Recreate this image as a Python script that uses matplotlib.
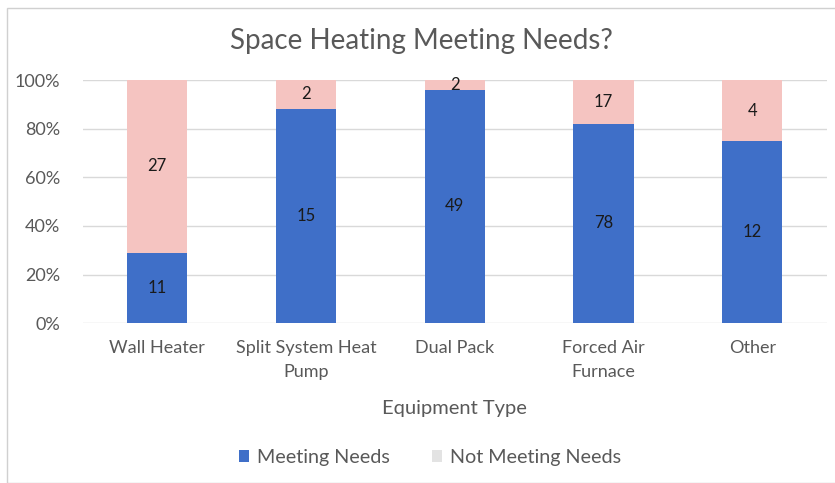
import matplotlib.pyplot as plt
from matplotlib.patches import Rectangle
import numpy as np

categories = ["Wall Heater", "Split System Heat\nPump", "Dual Pack", "Forced Air\nFurnace", "Other"]
meeting = [11, 15, 49, 78, 12]
not_meeting = [27, 2, 2, 17, 4]

blue = "#3F6FC8"
pink = "#F5C4C1"
text_col = "#595959"

plt.rcParams['font.family'] = ['Lato', 'DejaVu Sans']

fig = plt.figure(figsize=(8.35, 4.83), dpi=100)
ax = fig.add_axes([0.099, 0.331, 0.891, 0.503])

meet = np.array(meeting, dtype=float)
miss = np.array(not_meeting, dtype=float)
total = meet + miss
p_meet = meet / total
p_miss = miss / total

x = np.arange(len(categories))
w = 0.405
b1 = ax.bar(x, p_meet, w, color=blue, label="Meeting Needs", zorder=3)
b2 = ax.bar(x, p_miss, w, bottom=p_meet, color=pink, label="Not Meeting Needs", zorder=3)

for i in range(len(x)):
    ax.text(x[i], p_meet[i] / 2, str(meeting[i]), ha="center", va="center",
            fontsize=12, color="#1a1a1a", zorder=4)
    ax.text(x[i], p_meet[i] + p_miss[i] / 2, str(not_meeting[i]), ha="center", va="center",
            fontsize=12, color="#1a1a1a", zorder=4)

ax.set_ylim(0, 1)
ax.set_xlim(-0.5, len(x) - 0.5)
ax.set_yticks(np.linspace(0, 1, 6))
ax.set_yticklabels([f"{int(v * 100)}%" for v in np.linspace(0, 1, 6)])
ax.set_xticks(x)
ax.set_xticklabels(categories, linespacing=1.6)
ax.tick_params(axis="both", length=0, labelsize=13, colors=text_col)
ax.tick_params(axis="x", pad=12)
ax.tick_params(axis="y", pad=16)
ax.grid(axis="y", color="#d9d9d9", linewidth=1, zorder=0)
for s in ax.spines.values():
    s.set_visible(False)

ax.set_xlabel("Equipment Type", fontsize=14.5, color=text_col, labelpad=15)
fig.text(0.505, 0.915, "Space Heating Meeting Needs?", ha="center", va="center",
         fontsize=20, color=text_col)

leg = fig.legend(handles=[b1, b2], labels=["Meeting Needs", "Not Meeting Needs"],
                 loc="center", bbox_to_anchor=(0.515, 0.052), ncol=2, frameon=False,
                 fontsize=14.2, handlelength=0.55, handleheight=0.55, columnspacing=2.1,
                 handletextpad=0.4, labelcolor=text_col)
leg.legend_handles[1].set_facecolor("#e3e3e3")

fig.patches.append(Rectangle((7 / 835, 0), 1, 1 - 8 / 483, transform=fig.transFigure,
                             fill=False, edgecolor="#d0d0d0", linewidth=1))

fig.savefig("out.png", dpi=100)
